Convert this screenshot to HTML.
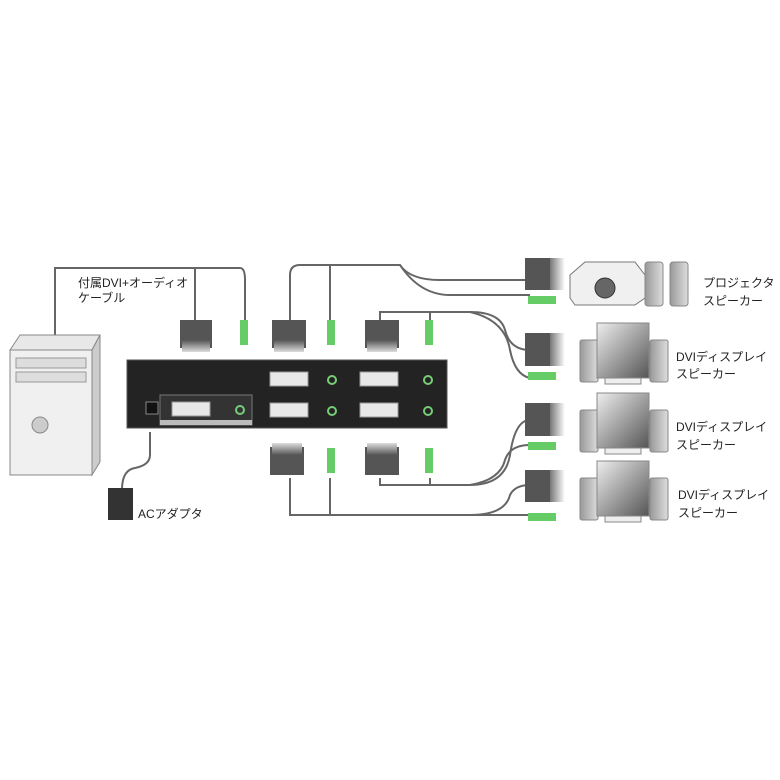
<!DOCTYPE html>
<html><head><meta charset="utf-8"><style>
body{margin:0;background:#fff}
svg{display:block}
text{font-family:"Liberation Sans","Noto Sans CJK JP",sans-serif;fill:#222}
</style></head><body>
<svg width="780" height="780" viewBox="0 0 780 780" xmlns="http://www.w3.org/2000/svg">
<defs>
<linearGradient id="gm" x1="0" x2="1"><stop offset="0" stop-color="#777"/><stop offset="1" stop-color="#fff"/></linearGradient>
<linearGradient id="gv" x1="0" y1="0" x2="0" y2="1"><stop offset="0" stop-color="#555"/><stop offset="1" stop-color="#ddd"/></linearGradient>
<linearGradient id="gv2" x1="0" y1="1" x2="0" y2="0"><stop offset="0" stop-color="#555"/><stop offset="1" stop-color="#ddd"/></linearGradient>
<linearGradient id="scr" x1="0" y1="0" x2="1" y2="1"><stop offset="0" stop-color="#eee"/><stop offset="1" stop-color="#555"/></linearGradient>
<linearGradient id="spk" x1="0" x2="1"><stop offset="0" stop-color="#999"/><stop offset="1" stop-color="#ddd"/></linearGradient>
</defs>
<g fill="none" stroke="#666" stroke-width="2">
<path d="M55 335 V268 H195 V320"/>
<path d="M195 268 H240 Q245 268 245 280 V320"/>
<path d="M290 320 V275 Q290 265 300 265 H400 Q410 280 440 280 H530"/>
<path d="M330 320 V265"/>
<path d="M400 265 Q420 295 450 295 H530"/>
<path d="M380 320 V312 H470 Q500 312 505 330 Q510 350 530 350"/>
<path d="M430 320 V312"/>
<path d="M470 312 Q505 320 510 350 Q515 375 530 378"/>
<path d="M150 432 V455 Q150 465 135 468 Q122 470 122 490"/>
<path d="M380 478 V485 H470 Q505 485 510 455 Q515 420 530 420"/>
<path d="M430 478 V485"/>
<path d="M470 485 Q500 480 505 460 Q510 445 530 445"/>
<path d="M290 478 V515 H470 Q505 515 510 495 Q515 485 530 485"/>
<path d="M330 478 V515"/>
<path d="M470 515 H530"/>
</g>
<!-- PC -->
<path d="M10 350 L20 335 H100 L92 350 Z" fill="#e8e8e8" stroke="#888"/>
<rect x="10" y="350" width="82" height="125" fill="#f0f0f0" stroke="#888"/>
<path d="M92 350 L100 335 V462 L92 475 Z" fill="#ccc" stroke="#888"/>
<rect x="16" y="358" width="70" height="10" fill="#ddd" stroke="#999"/>
<rect x="16" y="372" width="70" height="10" fill="#ddd" stroke="#999"/>
<circle cx="40" cy="425" r="8" fill="#ccc" stroke="#888"/>
<!-- Device -->
<rect x="127" y="360" width="320" height="68" fill="#232323" stroke="#555"/>
<rect x="160" y="395" width="92" height="30" fill="#333" stroke="#777"/>
<rect x="160" y="420" width="92" height="5" fill="#bbb"/>
<g fill="#e8e8e8" stroke="#999">
<rect x="172" y="402" width="38" height="14"/><rect x="270" y="372" width="38" height="14"/><rect x="360" y="372" width="38" height="14"/>
<rect x="270" y="403" width="38" height="14"/><rect x="360" y="403" width="38" height="14"/>
</g>
<g fill="none" stroke="#7c7" stroke-width="2">
<circle cx="240" cy="410" r="4"/><circle cx="332" cy="380" r="4"/><circle cx="428" cy="380" r="4"/><circle cx="332" cy="411" r="4"/><circle cx="428" cy="411" r="4"/>
</g>
<rect x="146" y="402" width="12" height="12" fill="#111" stroke="#888"/>
<!-- top/bottom connectors -->
<g fill="#555">
<rect x="180" y="320" width="32" height="28"/><rect x="272" y="320" width="34" height="28"/><rect x="365" y="320" width="34" height="28"/>
<rect x="270" y="447" width="34" height="28"/><rect x="365" y="447" width="34" height="28"/>
</g>
<g fill="url(#gv)">
<rect x="182" y="340" width="28" height="12"/><rect x="274" y="340" width="30" height="12"/><rect x="367" y="340" width="30" height="12"/>
</g>
<g fill="url(#gv2)">
<rect x="272" y="443" width="30" height="12"/><rect x="367" y="443" width="30" height="12"/>
</g>
<g fill="#6c6">
<rect x="240" y="320" width="8" height="25"/><rect x="327" y="320" width="8" height="25"/><rect x="425" y="320" width="8" height="25"/>
<rect x="327" y="448" width="8" height="25"/><rect x="425" y="448" width="8" height="25"/>
</g>
<!-- AC adapter -->
<rect x="108" y="488" width="25" height="32" fill="#333"/>
<!-- right connectors -->
<g>
<rect x="525" y="258" width="30" height="32" fill="#555"/><rect x="550" y="258" width="15" height="32" fill="url(#gm)"/><rect x="528" y="296" width="28" height="8" fill="#6c6"/>
<rect x="525" y="333" width="30" height="33" fill="#555"/><rect x="550" y="333" width="15" height="33" fill="url(#gm)"/><rect x="528" y="372" width="28" height="8" fill="#6c6"/>
<rect x="525" y="403" width="30" height="33" fill="#555"/><rect x="550" y="403" width="15" height="33" fill="url(#gm)"/><rect x="528" y="442" width="28" height="8" fill="#6c6"/>
<rect x="525" y="470" width="30" height="32" fill="#555"/><rect x="550" y="470" width="15" height="32" fill="url(#gm)"/><rect x="528" y="513" width="28" height="8" fill="#6c6"/>
</g>
<!-- projector -->
<path d="M570 275 L585 262 H635 L645 275 V298 L635 305 H575 L570 298 Z" fill="#f0f0f0" stroke="#777"/>
<circle cx="605" cy="288" r="10" fill="#666" stroke="#333"/>
<rect x="645" y="262" width="18" height="44" rx="3" fill="url(#spk)" stroke="#888"/>
<rect x="670" y="262" width="18" height="44" rx="3" fill="url(#spk)" stroke="#888"/>
<!-- monitors -->
<g id="mon" stroke="#888">
<rect x="580" y="340" width="18" height="42" rx="2" fill="url(#spk)"/>
<rect x="597" y="323" width="52" height="55" fill="url(#scr)"/>
<rect x="605" y="378" width="36" height="6" fill="#eee"/>
<rect x="650" y="340" width="18" height="42" rx="2" fill="url(#spk)"/>
</g>
<use href="#mon" y="70"/>
<use href="#mon" y="138"/>
<!-- text -->
<g font-size="12">
<text x="78" y="287">付属DVI+オーディオ</text>
<text x="78" y="302">ケーブル</text>
<text x="138" y="518">ACアダプタ</text>
<text x="703" y="287">プロジェクタ</text>
<text x="703" y="305">スピーカー</text>
<text x="676" y="361">DVIディスプレイ</text>
<text x="676" y="378">スピーカー</text>
<text x="676" y="431">DVIディスプレイ</text>
<text x="676" y="449">スピーカー</text>
<text x="678" y="499">DVIディスプレイ</text>
<text x="678" y="517">スピーカー</text>
</g>
</svg>
</body></html>
